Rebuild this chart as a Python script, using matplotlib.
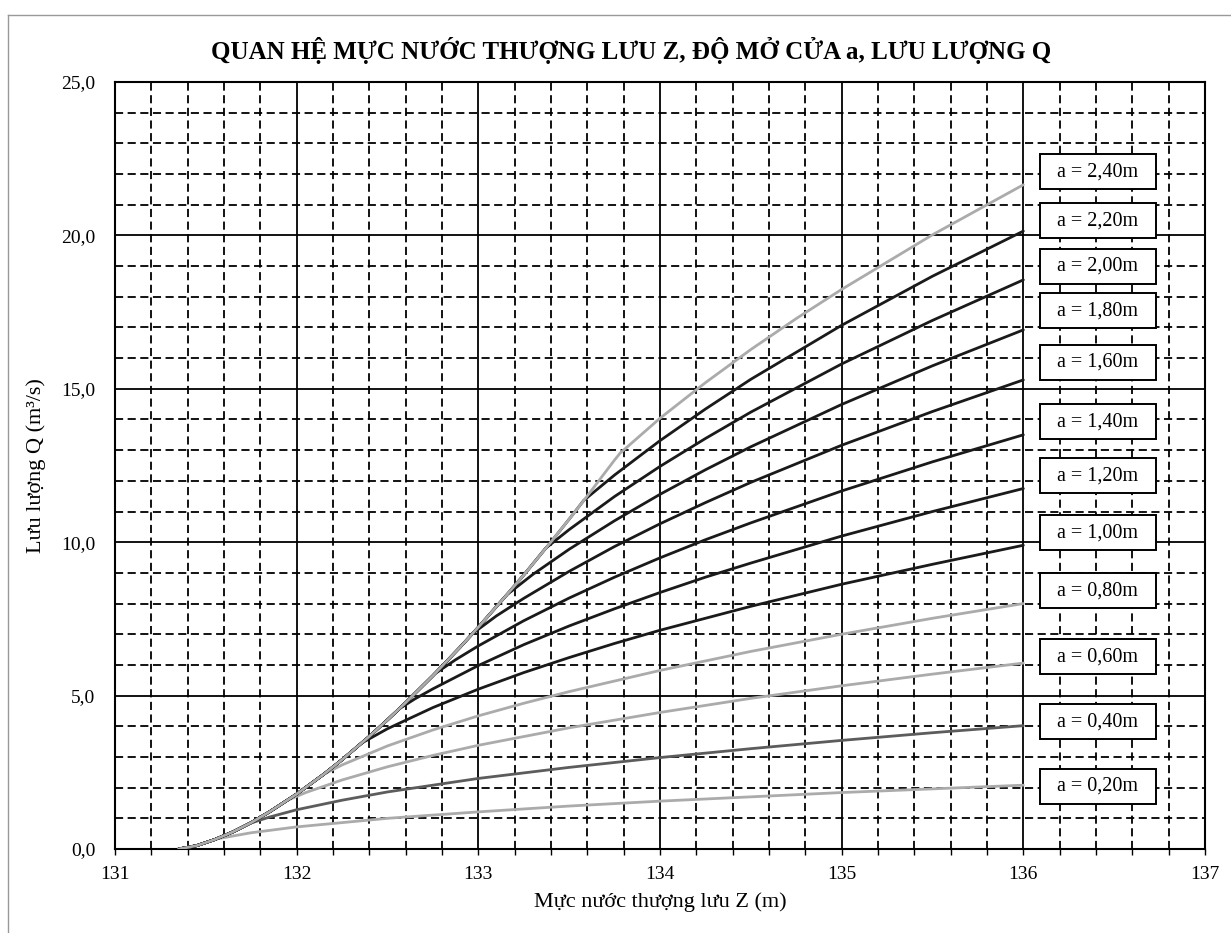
import matplotlib
matplotlib.use("Agg")
import matplotlib.pyplot as plt
from matplotlib.ticker import MultipleLocator
from matplotlib.lines import Line2D
from matplotlib.patches import Rectangle

# free-flow part (all curves share it until the gate takes over)
z_env = [131.35, 131.45, 131.55, 131.65, 131.75, 131.85, 132.0, 132.15, 132.25, 132.4,
         132.5, 132.6, 132.75, 132.9, 133.0, 133.15, 133.25, 133.4, 133.5, 133.6, 133.75]
q_env = [0.0, 0.11, 0.31, 0.56, 0.86, 1.21, 1.79, 2.44, 2.91, 3.67,
         4.21, 4.77, 5.65, 6.58, 7.23, 8.24, 8.93, 10.01, 10.75, 11.51, 12.68]

# gate-controlled part of each curve, starting where it leaves the free-flow line
z_020 = [131.56, 131.75, 132.0, 132.5, 133.0, 133.5, 134.0, 134.5, 135.0, 135.5, 136.0]
q_020 = [0.33, 0.53, 0.72, 1.00, 1.21, 1.40, 1.56, 1.70, 1.84, 1.96, 2.08]
z_040 = [131.74, 131.85, 132.0, 132.25, 132.5, 133.0, 133.5, 134.0, 134.5, 135.0, 135.5, 136.0]
q_040 = [0.83, 1.04, 1.28, 1.59, 1.86, 2.30, 2.66, 2.98, 3.27, 3.54, 3.79, 4.02]
z_060 = [131.95, 132.05, 132.25, 132.5, 132.75, 133.0, 133.5, 134.0, 134.5, 135.0, 135.5, 136.0]
q_060 = [1.59, 1.84, 2.25, 2.68, 3.05, 3.38, 3.95, 4.45, 4.91, 5.32, 5.70, 6.06]
z_080 = [132.15, 132.25, 132.5, 132.75, 133.0, 133.25, 133.5, 134.0, 134.5, 135.0, 135.5, 136.0]
q_080 = [2.44, 2.74, 3.36, 3.88, 4.34, 4.75, 5.13, 5.82, 6.44, 7.00, 7.52, 8.00]
z_100 = [132.36, 132.5, 132.75, 133.0, 133.25, 133.5, 133.75, 134.0, 134.5, 135.0, 135.5, 136.0]
q_100 = [3.46, 3.92, 4.61, 5.21, 5.75, 6.24, 6.70, 7.13, 7.91, 8.63, 9.28, 9.90]
z_120 = [132.565, 132.65, 132.75, 133.0, 133.25, 133.5, 133.75, 134.0, 134.25, 134.5, 135.0, 135.5, 136.0]
q_120 = [4.57, 4.89, 5.22, 5.98, 6.66, 7.27, 7.83, 8.36, 8.86, 9.32, 10.20, 11.00, 11.75]
z_140 = [132.76, 132.875, 133.0, 133.25, 133.5, 133.75, 134.0, 134.25, 134.5, 135.0, 135.5, 136.0]
q_140 = [5.71, 6.17, 6.62, 7.44, 8.18, 8.86, 9.49, 10.08, 10.63, 11.67, 12.62, 13.50]
z_160 = [132.97, 133.1, 133.25, 133.5, 133.75, 134.0, 134.25, 134.5, 135.0, 135.5, 136.0]
q_160 = [7.03, 7.60, 8.17, 9.05, 9.86, 10.60, 11.29, 11.95, 13.16, 14.26, 15.29]
z_180 = [133.16, 133.3, 133.5, 133.75, 134.0, 134.25, 134.5, 135.0, 135.5, 136.0]
q_180 = [8.30, 8.95, 9.77, 10.70, 11.56, 12.36, 13.11, 14.49, 15.75, 16.92]
z_200 = [133.37, 133.5, 133.75, 134.0, 134.25, 134.5, 135.0, 135.5, 136.0]
q_200 = [9.80, 10.41, 11.49, 12.47, 13.38, 14.24, 15.81, 17.23, 18.55]
z_220 = [133.58, 133.75, 134.0, 134.25, 134.5, 135.0, 135.5, 136.0]
q_220 = [11.36, 12.19, 13.31, 14.34, 15.31, 17.07, 18.67, 20.14]
z_240 = [133.78, 134.0, 134.25, 134.5, 134.75, 135.0, 135.5, 136.0]
q_240 = [12.90, 14.04, 15.20, 16.28, 17.29, 18.24, 20.02, 21.65]

labels = ["a = 0,20m", "a = 0,40m", "a = 0,60m", "a = 0,80m", "a = 1,00m", "a = 1,20m",
          "a = 1,40m", "a = 1,60m", "a = 1,80m", "a = 2,00m", "a = 2,20m", "a = 2,40m"]
label_y = [2.05, 4.14, 6.26, 8.41, 10.30, 12.16, 13.92, 15.87, 17.54, 19.00, 20.47, 22.07]

x_ticks = [131, 132, 133, 134, 135, 136, 137]
y_ticks = [0, 5, 10, 15, 20, 25]
y_ticklabels = ["0,0", "5,0", "10,0", "15,0", "20,0", "25,0"]

LIGHT = "#ababab"
MID = "#5c5c5c"
DARK = "#1a1a1a"
colors = [LIGHT, MID, LIGHT, LIGHT, DARK, DARK, DARK, DARK, DARK, DARK, DARK, LIGHT]

gate = [(z_020, q_020), (z_040, q_040), (z_060, q_060), (z_080, q_080),
        (z_100, q_100), (z_120, q_120), (z_140, q_140), (z_160, q_160),
        (z_180, q_180), (z_200, q_200), (z_220, q_220), (z_240, q_240)]

plt.rcParams["font.family"] = ["Liberation Serif", "DejaVu Serif"]

fig = plt.figure(figsize=(12.31, 9.33), dpi=100)
ax = fig.add_axes([115 / 1231, 1 - 849 / 933, 1090 / 1231, 767 / 933])

ax.set_xlim(131, 137)
ax.set_ylim(0, 25)

# grid: solid majors, dashed minors
for x in [131 + 0.2 * i for i in range(31)]:
    if abs(x - round(x)) < 1e-6:
        ax.axvline(x, color="black", lw=1.3, zorder=1)
    else:
        ax.axvline(x, color="black", lw=1.3, dashes=(4.5, 2.5), zorder=1)
for y in range(26):
    if y % 5 == 0:
        ax.axhline(y, color="black", lw=1.3, zorder=1)
    else:
        ax.axhline(y, color="black", lw=1.3, dashes=(4.5, 2.5), zorder=1)

for (zg, qg), c in zip(gate, colors):
    n = sum(1 for z in z_env if z < zg[0])
    zz = z_env[:n] + zg
    qq = q_env[:n] + qg
    ax.plot(zz, qq, color=c, lw=2.0, zorder=3, solid_capstyle="round")

# label boxes
bw = 116 / 181.5
bh = 35 / 30.68
for lab, ly in zip(labels, label_y):
    ax.add_patch(Rectangle((136.41 - bw / 2, ly - bh / 2), bw, bh, facecolor="white",
                           edgecolor="black", lw=1.4, zorder=5))
    ax.text(136.41, ly, lab, ha="center", va="center", fontsize=14.5, zorder=6)

ax.set_xticks(x_ticks)
ax.set_xticklabels([str(v) for v in x_ticks])
ax.xaxis.set_minor_locator(MultipleLocator(0.2))
ax.set_yticks(y_ticks)
ax.set_yticklabels(y_ticklabels)
ax.tick_params(axis="x", which="both", direction="out", length=4, width=1, pad=8, labelsize=14)
ax.tick_params(axis="y", which="both", length=0, pad=14, labelsize=14)

for s in ax.spines.values():
    s.set_linewidth(1.5)

ax.set_xlabel("Mực nước thượng lưu Z (m)", fontsize=16, labelpad=7)
ax.set_ylabel("Lưu lượng Q (m³/s)", fontsize=16, labelpad=11)

fig.text(0.513, 0.946, "QUAN HỆ MỰC NƯỚC THƯỢNG LƯU Z, ĐỘ MỞ CỬA a, LƯU LƯỢNG Q",
         ha="center", va="center", fontsize=18, fontweight="bold")

# chart area frame
fig.add_artist(Line2D([8 / 1231, 8 / 1231], [0, 1 - 15 / 933], transform=fig.transFigure,
                      color="#999999", lw=1))
fig.add_artist(Line2D([8 / 1231, 1], [1 - 15 / 933, 1 - 15 / 933], transform=fig.transFigure,
                      color="#999999", lw=1))

fig.savefig("out.png", dpi=100)
